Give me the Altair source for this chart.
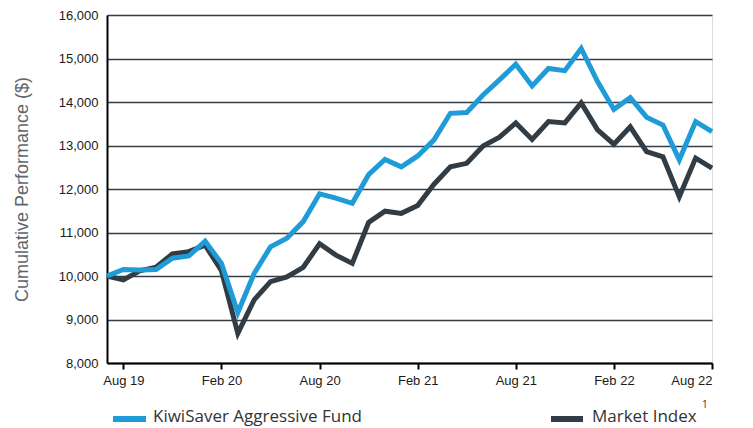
import altair as alt
import pandas as pd

# Month index 0 = Jul 19 ... 37 = Aug 22
months = ["Jul 19", "Aug 19", "Sep 19", "Oct 19", "Nov 19", "Dec 19", "Jan 20", "Feb 20",
          "Mar 20", "Apr 20", "May 20", "Jun 20", "Jul 20", "Aug 20", "Sep 20", "Oct 20",
          "Nov 20", "Dec 20", "Jan 21", "Feb 21", "Mar 21", "Apr 21", "May 21", "Jun 21",
          "Jul 21", "Aug 21", "Sep 21", "Oct 21", "Nov 21", "Dec 21", "Jan 22", "Feb 22",
          "Mar 22", "Apr 22", "May 22", "Jun 22", "Jul 22", "Aug 22"]

fund = [10000, 10150, 10140, 10150, 10410, 10460, 10800, 10290, 9160, 10060,
        10670, 10870, 11250, 11890, 11790, 11670, 12330, 12680, 12510, 12760,
        13130, 13740, 13760, 14160, 14510, 14870, 14370, 14770, 14720, 15230,
        14470, 13830, 14100, 13650, 13470, 12670, 13550, 13320]

market = [10000, 9910, 10120, 10200, 10510, 10560, 10710, 10120, 8680, 9450,
          9870, 9980, 10200, 10740, 10480, 10290, 11230, 11490, 11440, 11620,
          12110, 12510, 12590, 12990, 13190, 13520, 13140, 13550, 13520, 13980,
          13360, 13030, 13430, 12860, 12740, 11820, 12710, 12480]

series_names = ["KiwiSaver Aggressive Fund", "Market Index"]
colors = ["#1f9cd8", "#323c44"]
tick_idx = [1, 7, 13, 19, 25, 31, 37]
y_ticks = [8000, 9000, 10000, 11000, 12000, 13000, 14000, 15000, 16000]

rows = []
for i, m in enumerate(months):
    rows.append({"idx": i, "month": m, "series": series_names[1], "value": market[i]})
for i, m in enumerate(months):
    rows.append({"idx": i, "month": m, "series": series_names[0], "value": fund[i]})
df = pd.DataFrame(rows)

label_map = "{" + ",".join(f"'{i}':'{months[i]}'" for i in tick_idx) + "}"

W, H = 605, 348

x = alt.X("idx:Q",
          scale=alt.Scale(domain=[0, 37], nice=False, zero=False),
          axis=alt.Axis(values=tick_idx, labelExpr=f"{label_map}[datum.value]",
                        title=None, grid=False, domainColor="#000000", domainWidth=2,
                        tickColor="#000000", tickWidth=2, tickSize=6, labelPadding=5,
                        labelFont="Liberation Sans", labelFontSize=13, labelColor="#1a1a1a"))
y = alt.Y("value:Q",
          scale=alt.Scale(domain=[8000, 16000], nice=False, zero=False),
          axis=alt.Axis(values=y_ticks, format=",.0f", title="Cumulative Performance ($)",
                        titleFont="Liberation Sans", titleFontSize=18, titleFontWeight="normal",
                        titleColor="#5c6770", titleAngle=-90, titleX=-85, titleY=H / 2,
                        titleAlign="center", titleBaseline="middle",
                        grid=True, gridColor="#353d45", gridWidth=1.6, ticks=False,
                        domainColor="#000000", domainWidth=2, labelPadding=9,
                        labelFont="Liberation Sans", labelFontSize=13, labelColor="#1a1a1a"))

lines = alt.Chart(df).mark_line(strokeWidth=5, strokeJoin="miter").encode(
    x=x, y=y,
    color=alt.Color("series:N", scale=alt.Scale(domain=series_names, range=colors), legend=None),
    detail="series:N",
    order="idx:Q",
)
dark_line = lines.transform_filter(alt.datum.series == series_names[1])
blue_line = lines.transform_filter(alt.datum.series == series_names[0])

# Legend (manual), one row of data per legend element
one = pd.DataFrame({"k": [0]})
sw_y = 404
tx_y = 402
sw1 = alt.Chart(one).mark_rule(color=colors[0], strokeWidth=6).encode(
    x=alt.value(6), x2=alt.value(39), y=alt.value(sw_y))
sw2 = alt.Chart(one).mark_rule(color=colors[1], strokeWidth=6).encode(
    x=alt.value(444), x2=alt.value(476), y=alt.value(sw_y))
t1 = alt.Chart(one).mark_text(text=series_names[0], align="left", baseline="middle",
                              font="Open Sans", fontSize=17, color="#333333").encode(
    x=alt.value(46), y=alt.value(tx_y))
t2 = alt.Chart(one).mark_text(text=series_names[1], align="left", baseline="middle",
                              font="Open Sans", fontSize=17, color="#333333").encode(
    x=alt.value(485), y=alt.value(tx_y))
sup = alt.Chart(one).mark_text(text="1", align="left", baseline="middle",
                               font="Open Sans", fontSize=10, color="#333333").encode(
    x=alt.value(595), y=alt.value(390))

chart = alt.layer(dark_line, blue_line, sw1, sw2, t1, t2, sup).properties(
    width=W, height=H,
    autosize=alt.AutoSizeParams(type="none"),
    padding={"left": 99, "top": 7, "right": 33, "bottom": 65},
).configure_view(stroke=None).configure(background="white")

chart.save("out.html", embed_options={"renderer": "svg", "actions": False})
